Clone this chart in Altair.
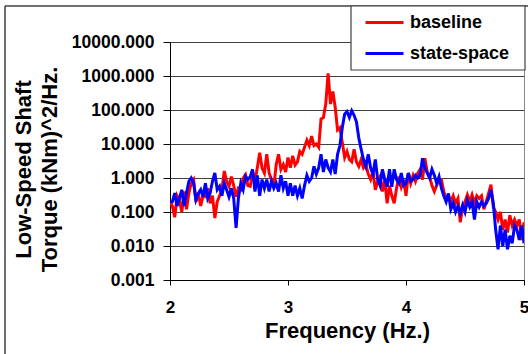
import altair as alt
import pandas as pd

# frequency grid (Hz), 0.02 Hz spacing
FREQ = [round(2 + 0.02 * i, 2) for i in range(151)]

BASELINE = [
    0.2, 0.15, 0.07, 0.3, 0.22, 0.1, 0.4, 0.12, 0.36, 0.7,
    0.9, 0.2, 0.35, 0.15, 0.3, 0.28, 0.5, 0.18, 0.3, 0.066,
    0.2, 0.3, 0.45, 1.6, 0.8, 0.57, 1.1, 0.6, 0.28, 0.5,
    0.45, 1.0, 1.25, 0.6, 0.57, 1.4, 0.8, 2.0, 5.5, 2.0,
    1.4, 5.0, 1.4, 0.9, 0.55, 2.5, 5.0, 1.8, 2.5, 1.5,
    4.0, 2.0, 4.5, 2.4, 3.0, 6.0, 5.0, 8.0, 13, 9.0,
    17, 9, 10, 8, 55, 60, 150, 1200, 150, 350,
    120, 26, 30, 11, 4, 6, 3.5, 3.0, 7, 3.0,
    2.2, 3.5, 2.0, 2.5, 1.3, 0.9, 1.6, 0.45, 0.8, 1.1,
    0.4, 0.9, 0.18, 0.6, 0.3, 0.18, 0.5, 1.1, 0.55, 0.9,
    0.3, 1.4, 0.7, 1.2, 0.8, 1.4, 1.8, 0.9, 3.8, 1.5,
    1.1, 0.6, 0.4, 0.6, 0.9, 0.9, 0.4, 0.25, 0.3, 0.2,
    0.3, 0.18, 0.25, 0.05, 0.14, 0.2, 0.32, 0.2, 0.32, 0.18,
    0.3, 0.25, 0.3, 0.12, 0.2, 0.36, 0.64, 0.14, 0.1, 0.06,
    0.1, 0.03, 0.06, 0.025, 0.08, 0.04, 0.06, 0.04, 0.06, 0.015,
    0.05,
]

STATE_SPACE = [
    0.2, 0.2, 0.36, 0.15, 0.25, 0.45, 0.15, 0.36, 0.8, 1.0,
    0.7, 0.23, 0.35, 0.45, 0.28, 0.7, 0.25, 0.36, 0.8, 1.4,
    0.45, 0.57, 0.3, 0.7, 0.45, 0.28, 0.5, 0.25, 0.034, 0.26,
    0.7, 0.45, 1.1, 0.9, 1.1, 1.8, 0.4, 1.2, 0.3, 0.9,
    0.5, 0.9, 0.4, 0.8, 0.5, 0.7, 0.4, 1.2, 0.5, 0.8,
    0.3, 0.7, 0.3, 0.6, 0.3, 0.5, 0.25, 0.6, 1.2, 0.8,
    1.0, 2.2, 1.3, 2.0, 5.0, 1.5, 3.5, 2.0, 1.5, 3.5,
    1.3, 5.0, 9.0, 30, 75, 90, 60, 95, 70, 45,
    15, 7, 3.5, 2.2, 5, 2.0, 1.3, 3.5, 0.9, 0.6,
    1.8, 0.9, 0.55, 1.8, 0.55, 1.8, 0.9, 0.7, 1.4, 0.6,
    0.7, 1.4, 0.8, 0.9, 1.2, 1.0, 1.2, 3.8, 2.0, 1.4,
    1.0, 1.8, 1.2, 0.7, 1.1, 0.5, 0.3, 0.2, 0.35, 0.12,
    0.18, 0.1, 0.15, 0.09, 0.16, 0.1, 0.22, 0.14, 0.2, 0.06,
    0.2, 0.14, 0.2, 0.15, 0.18, 0.25, 0.45, 0.18, 0.03, 0.008,
    0.04, 0.01, 0.03, 0.008, 0.02, 0.012, 0.04, 0.03, 0.015, 0.04,
    0.012,
]

SERIES = ["baseline", "state-space"]
COLORS = ["#FF0000", "#0000FF"]
X_TICKS = [2, 3, 4, 5]
Y_TICKS = [0.001, 0.01, 0.1, 1, 10, 100, 1000, 10000]
Y_TITLE = ["Low-Speed Shaft", "Torque (kNm)^2/Hz."]
X_TITLE = "Frequency (Hz.)"

n = len(FREQ)
df = pd.DataFrame({
    "freq": FREQ + FREQ,
    "value": BASELINE + STATE_SPACE,
    "series": [SERIES[0]] * n + [SERIES[1]] * n,
})

FONT = "Liberation Sans"

lines = alt.Chart(df).mark_line(strokeWidth=3, clip=True).encode(
    x=alt.X(
        "freq:Q",
        scale=alt.Scale(domain=[2, 5], nice=False, zero=False),
        axis=alt.Axis(
            values=X_TICKS, format="d", title=X_TITLE, grid=False,
            tickSize=5, labelPadding=14, labelFontSize=17,
            labelFlush=False, labelOverlap=False,
            titleY=57, titleBaseline="alphabetic", titleFontSize=22,
        ),
    ),
    y=alt.Y(
        "value:Q",
        scale=alt.Scale(type="log", domain=[0.001, 10000], nice=False),
        axis=alt.Axis(
            values=Y_TICKS, format=".3f", title=Y_TITLE, grid=True,
            gridColor="#404040", gridWidth=1,
            tickSize=7, labelPadding=9, labelFlush=False, labelOverlap=False,
            titleAngle=270, titleX=-157, titleY=127, titleBaseline="top",
            titleAlign="center", titleLineHeight=26, titleFontSize=22,
        ),
    ),
    color=alt.Color(
        "series:N",
        scale=alt.Scale(domain=SERIES, range=COLORS),
        legend=alt.Legend(
            title=None, orient="none", legendX=181, legendY=-36,
            padding=1,
            symbolType="stroke", symbolSize=1444, symbolStrokeWidth=3,
            clipHeight=31, rowPadding=0, symbolOffset=12, labelOffset=5,
            labelFont=FONT, labelFontSize=18, labelFontWeight="bold",
            labelColor="black", labelLimit=200,
        ),
    ),
)

one_row = pd.DataFrame({"k": [0]})
# legend box (decoration)
legend_box = alt.Chart(one_row).mark_rect(
    fill="white", stroke="#404040", strokeWidth=1.2
).encode(
    x=alt.value(181), x2=alt.value(355), y=alt.value(-36), y2=alt.value(28)
)
# outer chart frame (decoration)
frame_top = alt.Chart(one_row).mark_rule(color="#404040", strokeWidth=1.5).encode(
    x=alt.value(-165), x2=alt.value(360), y=alt.value(-36)
)
frame_left = alt.Chart(one_row).mark_rule(color="#404040", strokeWidth=1.5).encode(
    x=alt.value(-165), y=alt.value(-36), y2=alt.value(320)
)

chart = alt.layer(frame_top, frame_left, lines, legend_box).properties(
    width=354, height=238,
    autosize=alt.AutoSizeParams(type="none"),
    padding={"left": 170, "top": 42, "right": 4, "bottom": 74},
    background="white",
).configure_view(
    stroke="#888888", strokeWidth=1
).configure_axis(
    labelFont=FONT, labelFontSize=17.5, labelFontWeight="bold", labelColor="black",
    titleFont=FONT, titleFontWeight="bold", titleColor="black",
    domainColor="black", domainWidth=1, tickColor="black", tickWidth=1,
)

chart.save("out.html", embed_options={"renderer": "svg", "actions": False})
